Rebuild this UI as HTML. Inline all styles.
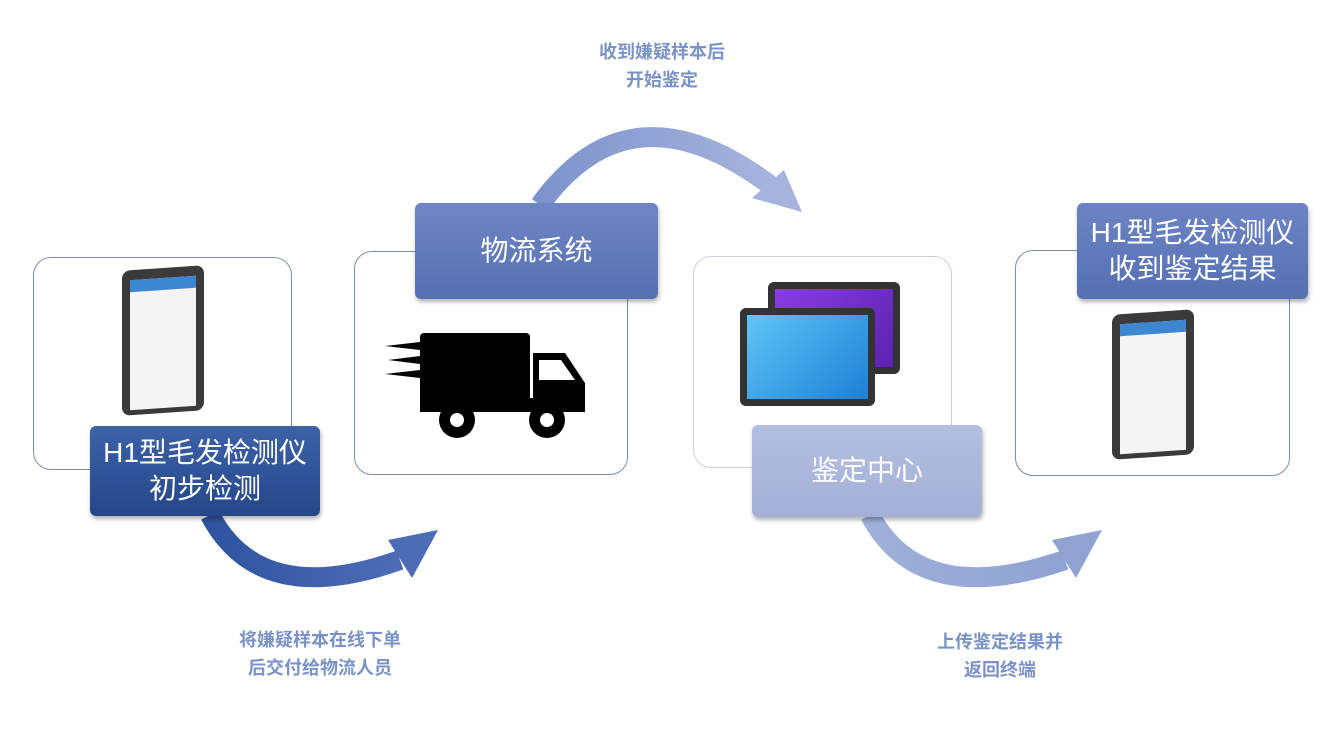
<!DOCTYPE html>
<html><head><meta charset="utf-8"><style>
body{margin:0;width:1344px;height:736px;background:#fff;position:relative;overflow:hidden;font-family:"Liberation Sans","Noto Sans CJK SC",sans-serif}
.box{position:absolute;border:1.5px solid #7e8cab;border-radius:18px;background:#fff}
.lab{position:absolute;border-radius:6px;color:#fff;display:flex;align-items:center;justify-content:center;text-align:center;font-size:28px;line-height:36px;box-shadow:1px 3px 4px rgba(0,0,0,.3)}
.t{position:absolute;color:#7a93c6;font-weight:bold;font-size:18px;line-height:28px;text-align:center}
</style></head><body>
<svg width="1344" height="736" style="position:absolute;left:0;top:0">
<defs>
<linearGradient id="g1" x1="0" x2="1"><stop offset="0" stop-color="#2f53a0"/><stop offset="1" stop-color="#4d6cb6"/></linearGradient>
<linearGradient id="g2" x1="0" x2="1"><stop offset="0" stop-color="#7d93cc"/><stop offset="1" stop-color="#a6b4dd"/></linearGradient>
<linearGradient id="g3" x1="0" x2="1"><stop offset="0" stop-color="#9fb0d8"/><stop offset="1" stop-color="#8fa2d2"/></linearGradient>
</defs>
<path d="M210 515 Q 260 610 400 560" stroke="url(#g1)" stroke-width="20" fill="none"/>
<polygon points="438,530 388,540 412,578" fill="#4d6cb6"/>
<path d="M540 205 Q 630 80 770 185" stroke="url(#g2)" stroke-width="20" fill="none"/>
<polygon points="802,212 752,198 784,170" fill="#a6b4dd"/>
<path d="M870 515 Q 920 610 1065 560" stroke="url(#g3)" stroke-width="20" fill="none"/>
<polygon points="1102,530 1052,540 1076,578" fill="#8fa2d2"/>
</svg>
<div class="box" style="left:33px;top:257px;width:257px;height:211px"></div>
<div class="box" style="left:354px;top:251px;width:272px;height:222px"></div>
<div class="box" style="left:693px;top:256px;width:257px;height:210px;border-color:#c8cfe0"></div>
<div class="box" style="left:1015px;top:250px;width:273px;height:224px"></div>
<div style="position:absolute;left:122px;top:268px;width:82px;height:145px;background:#3a3a3a;border-radius:8px;transform:skewY(-4deg)"><div style="margin:10px 8px;height:118px;background:#f4f4f4;border-top:12px solid #3d86d0"></div></div>
<div style="position:absolute;left:1112px;top:312px;width:82px;height:145px;background:#3a3a3a;border-radius:8px;transform:skewY(-4deg)"><div style="margin:10px 8px;height:118px;background:#f4f4f4;border-top:12px solid #3d86d0"></div></div>
<div style="position:absolute;left:768px;top:282px;width:132px;height:92px;background:#333;border-radius:6px"><div style="margin:7px;height:78px;background:linear-gradient(135deg,#8a3ce0,#5a22b0)"></div></div>
<div style="position:absolute;left:740px;top:308px;width:135px;height:98px;background:#333;border-radius:6px"><div style="margin:7px;height:84px;background:linear-gradient(135deg,#5ec6f5,#1e7fd6)"></div></div>
<svg width="210" height="120" style="position:absolute;left:385px;top:328px">
<rect x="35" y="5" width="110" height="75" rx="4" fill="#000"/>
<path d="M148 25 L180 25 L200 55 L200 82 L148 82Z" fill="#000"/>
<path d="M154 32 L176 32 L190 52 L154 52Z" fill="#fff"/>
<rect x="35" y="70" width="165" height="14" fill="#000"/>
<circle cx="72" cy="92" r="18" fill="#000"/><circle cx="72" cy="92" r="7" fill="#fff"/>
<circle cx="162" cy="92" r="18" fill="#000"/><circle cx="162" cy="92" r="7" fill="#fff"/>
<path d="M0 18 L35 14 L35 22Z M3 32 L35 28 L35 36Z M0 46 L35 42 L35 50Z" fill="#000"/>
</svg>
<div class="lab" style="left:90px;top:426px;width:230px;height:90px;background:linear-gradient(#3d62a8,#244789)">H1型毛发检测仪<br>初步检测</div>
<div class="lab" style="left:415px;top:203px;width:243px;height:96px;background:linear-gradient(#6f86c4,#5670b2)">物流系统</div>
<div class="lab" style="left:752px;top:425px;width:230px;height:92px;background:linear-gradient(#b3bfe0,#a3b0d6)">鉴定中心</div>
<div class="lab" style="left:1077px;top:203px;width:231px;height:96px;background:linear-gradient(#6c84c4,#5670b2)">H1型毛发检测仪<br>收到鉴定结果</div>
<div class="t" style="left:562px;top:38px;width:200px">收到嫌疑样本后<br>开始鉴定</div>
<div class="t" style="left:200px;top:626px;width:240px">将嫌疑样本在线下单<br>后交付给物流人员</div>
<div class="t" style="left:880px;top:628px;width:240px">上传鉴定结果并<br>返回终端</div>
</body></html>
